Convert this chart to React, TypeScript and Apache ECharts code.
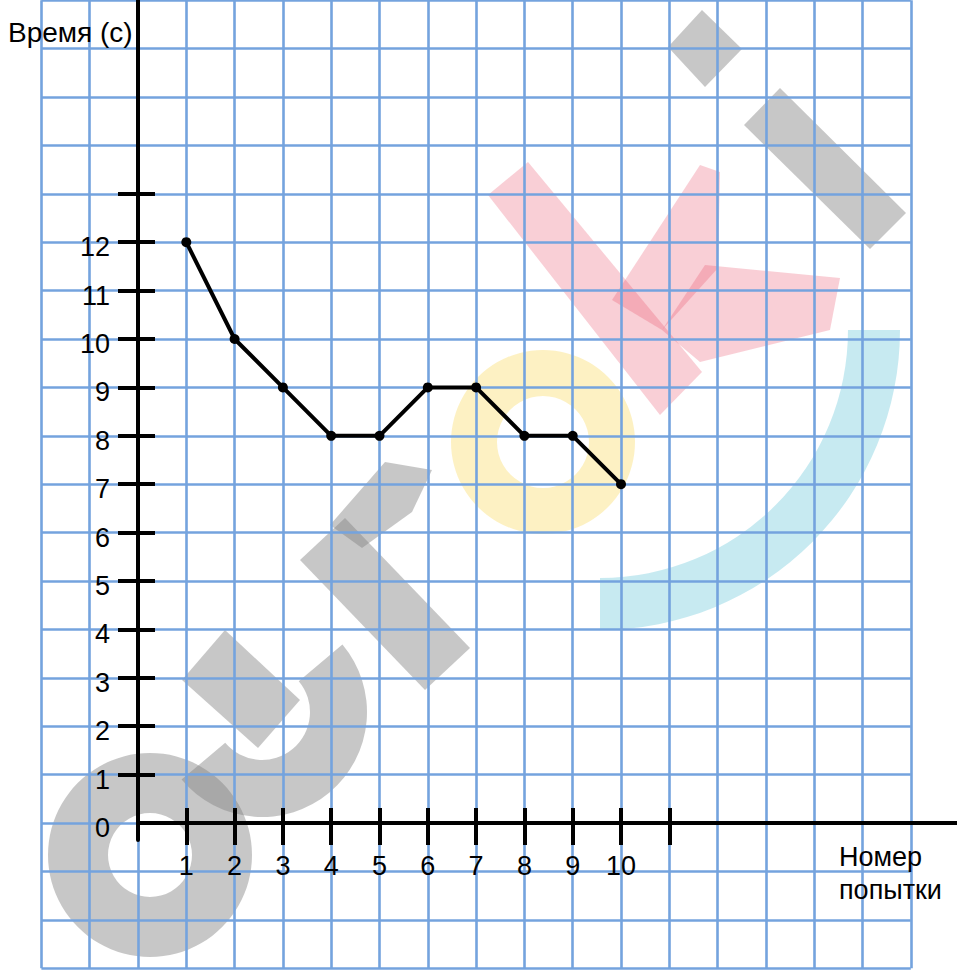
import React, { useEffect, useRef } from "react";
import * as echarts from "echarts";

// ---- data ----
const attempts = [1, 2, 3, 4, 5, 6, 7, 8, 9, 10];
const times = [12, 10, 9, 8, 8, 9, 9, 8, 8, 7];
const xTickValues = [1, 2, 3, 4, 5, 6, 7, 8, 9, 10, 11];
const xLabelValues = [1, 2, 3, 4, 5, 6, 7, 8, 9, 10];
const yTickValues = [1, 2, 3, 4, 5, 6, 7, 8, 9, 10, 11, 12, 13];
const yLabelValues = [0, 1, 2, 3, 4, 5, 6, 7, 8, 9, 10, 11, 12];
const yTitle = "Время (с)";
const xTitleLines = ["Номер", "попытки"];

// ---- layout ----
const W = 957;
const H = 971;
const UX = 48.3; // px per unit horizontally
const UY = 48.4; // px per unit vertically
const ORIGIN_X = 138;
const ORIGIN_Y = 823;
const PAPER_X = [-2, 16];
const PAPER_Y = [-3, 17];
const Y_AXIS_BOTTOM = 840;
const FONT = "'Liberation Sans', Arial, sans-serif";
const GRID_BLUE = "#74a3de";

export default function App() {
  const ref = useRef<HTMLDivElement>(null);
  useEffect(() => {
    document.body.style.margin = "0";
    document.body.style.overflow = "hidden";
    document.documentElement.style.overflow = "hidden";
    if (!ref.current) return;
    const chart = echarts.init(ref.current, null, { renderer: "svg" });

    const paperLeft = ORIGIN_X + PAPER_X[0] * UX;
    const paperRight = W - (ORIGIN_X + PAPER_X[1] * UX);
    const paperTop = ORIGIN_Y - PAPER_Y[1] * UY;
    const paperBottom = H - (ORIGIN_Y - PAPER_Y[0] * UY);

    const xMax = (W - ORIGIN_X) / UX;
    const yMax = ORIGIN_Y / UY;
    const yMin = -(Y_AXIS_BOTTOM - ORIGIN_Y) / UY;

    const black = "#000";
    const labelStyle = { color: black, fontSize: 27, fontFamily: FONT };

    const gray = "rgba(130,130,130,0.45)";
    const pink = "rgba(230,70,95,0.26)";
    const watermark: any[] = [
      // e
      { type: "ring", shape: { cx: 150, cy: 855, r: 102, r0: 42 }, style: { fill: gray } },
      // u
      { type: "sector", shape: { cx: 262, cy: 712, r: 105, r0: 48, startAngle: (-40 * Math.PI) / 180, endAngle: (140 * Math.PI) / 180 }, style: { fill: gray } },
      { type: "polygon", shape: { points: [[182, 680], [225, 630], [300, 700], [258, 748]] }, style: { fill: gray } },
      // r
      { type: "polygon", shape: { points: [[300, 560], [345, 518], [470, 648], [425, 690]] }, style: { fill: gray } },
      { type: "polygon", shape: { points: [[330, 525], [385, 462], [432, 470], [412, 512], [362, 548]] }, style: { fill: gray } },
      // o
      { type: "ring", shape: { cx: 543, cy: 442, r: 92, r0: 46 }, style: { fill: "rgba(248,205,40,0.28)" } },
      // k
      { type: "polygon", shape: { points: [[488, 195], [528, 162], [702, 372], [660, 415]] }, style: { fill: pink } },
      { type: "polygon", shape: { points: [[612, 300], [700, 165], [720, 172], [718, 268], [662, 330]] }, style: { fill: pink } },
      { type: "polygon", shape: { points: [[662, 330], [705, 265], [840, 278], [830, 330], [700, 362]] }, style: { fill: pink } },
      // I
      { type: "polygon", shape: { points: [[668, 47], [702, 10], [742, 49], [705, 87]] }, style: { fill: gray } },
      { type: "polygon", shape: { points: [[744, 125], [780, 88], [906, 213], [870, 249]] }, style: { fill: gray } },
      // arc
      { type: "sector", shape: { cx: 600, cy: 330, r: 300, r0: 248, startAngle: 0, endAngle: Math.PI / 2 }, style: { fill: "rgba(70,185,210,0.3)" } },
    ];

    const option: any = {
      animation: false,
      backgroundColor: "#fff",
      grid: [
        { left: paperLeft, right: paperRight, top: paperTop, bottom: paperBottom, containLabel: false },
        { left: ORIGIN_X, right: 0, top: 0, bottom: H - Y_AXIS_BOTTOM, containLabel: false },
      ],
      xAxis: [
        {
          gridIndex: 0, type: "value", min: PAPER_X[0], max: PAPER_X[1], interval: 1,
          axisLine: { show: false }, axisTick: { show: false }, axisLabel: { show: false },
          splitLine: { show: true, lineStyle: { color: GRID_BLUE, width: 2.6 } },
        },
        {
          gridIndex: 1, type: "value", position: "bottom", min: 0, max: xMax,
          axisLine: { show: true, onZero: true, onZeroAxisIndex: 1, lineStyle: { color: black, width: 4 } },
          axisTick: { show: true, customValues: xTickValues, length: 22, lineStyle: { color: black, width: 4 } },
          axisLabel: { show: true, customValues: xLabelValues, margin: 12, ...labelStyle },
          splitLine: { show: false },
        },
        {
          gridIndex: 1, type: "value", position: "bottom", min: 0, max: xMax,
          axisLine: { show: false, onZero: true, onZeroAxisIndex: 1 },
          axisTick: { show: true, inside: true, customValues: xTickValues, length: 15, lineStyle: { color: black, width: 4 } },
          axisLabel: { show: false },
          splitLine: { show: false },
        },
      ],
      yAxis: [
        {
          gridIndex: 0, type: "value", min: PAPER_Y[0], max: PAPER_Y[1], interval: 1,
          axisLine: { show: false }, axisTick: { show: false }, axisLabel: { show: false },
          splitLine: { show: true, lineStyle: { color: GRID_BLUE, width: 2.6 } },
        },
        {
          gridIndex: 1, type: "value", position: "left", min: yMin, max: yMax,
          axisLine: { show: true, onZero: false, lineStyle: { color: black, width: 4 } },
          axisTick: { show: true, customValues: yTickValues, length: 20, lineStyle: { color: black, width: 4 } },
          axisLabel: { show: true, customValues: yLabelValues, margin: 28, verticalAlign: "top", lineHeight: 10, ...labelStyle },
          splitLine: { show: false },
        },
        {
          gridIndex: 1, type: "value", position: "left", min: yMin, max: yMax,
          axisLine: { show: false, onZero: false },
          axisTick: { show: true, inside: true, customValues: yTickValues, length: 17, lineStyle: { color: black, width: 4 } },
          axisLabel: { show: false },
          splitLine: { show: false },
        },
      ],
      graphic: [
        { type: "group", z: -10, silent: true, children: watermark },
        {
          type: "text", left: 8, top: 18, z: 10,
          style: { text: yTitle, fill: black, fontSize: 28, fontFamily: FONT },
        },
        {
          type: "text", left: 839, top: 840, z: 10,
          style: { text: xTitleLines.join("\n"), fill: black, fontSize: 27, lineHeight: 33, fontFamily: FONT },
        },
      ],
      series: [
        {
          type: "line",
          xAxisIndex: 1,
          yAxisIndex: 1,
          data: attempts.map((a, i) => [a, times[i]]),
          symbol: "circle",
          symbolSize: 10,
          lineStyle: { color: black, width: 4 },
          itemStyle: { color: black },
          z: 5,
        },
      ],
    };
    chart.setOption(option);
    return () => chart.dispose();
  }, []);
  return <div ref={ref} style={{ position: "absolute", left: 0, top: 0, width: W, height: H }} />;
}
